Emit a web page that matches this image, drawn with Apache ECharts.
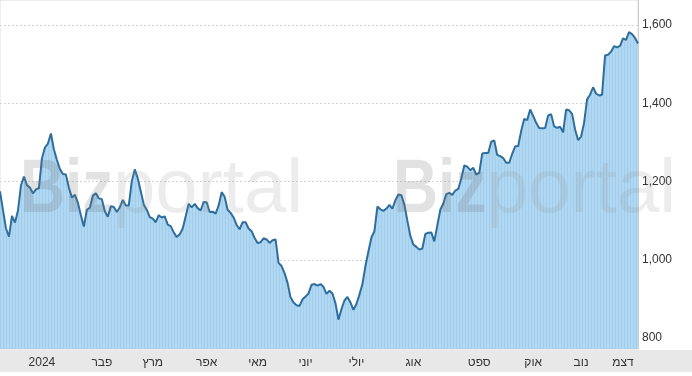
<!DOCTYPE html>
<html lang="he">

<head>
    <meta charset="UTF-8">
    <title>Bizportal</title>
    <script src="https://cdn.jsdelivr.net/npm/echarts@6/dist/echarts.min.js"></script>
    <style>
        html, body { margin: 0; padding: 0; background: #fff; }
    </style>
</head>

<body>

    <div id='main' style="width: 692px;height: 376px;"></div>

    <script>
        // ערכי המדד (נקודה כל ~2 ימי מסחר)
        var values = [
            1175, 1127, 1080, 1059, 1112, 1095, 1126, 1190, 1213, 1191,
            1184, 1170, 1180, 1183, 1259, 1287, 1297, 1323, 1282, 1255,
            1232, 1219, 1218, 1184, 1159, 1166, 1146, 1114, 1085, 1128,
            1133, 1164, 1170, 1157, 1155, 1124, 1110, 1137, 1135, 1122,
            1134, 1153, 1139, 1139, 1201, 1231, 1208, 1175, 1141, 1128,
            1109, 1105, 1096, 1114, 1108, 1111, 1090, 1086, 1070, 1058,
            1065, 1080, 1111, 1143, 1134, 1143, 1132, 1126, 1148, 1147,
            1122, 1123, 1118, 1139, 1173, 1161, 1128, 1120, 1108, 1089,
            1078, 1096, 1096, 1080, 1073, 1056, 1043, 1045, 1055, 1052,
            1043, 1050, 1052, 992, 984, 966, 941, 904, 891, 884,
            882, 899, 906, 914, 936, 938, 934, 938, 931, 913,
            921, 914, 889, 847, 874, 896, 905, 891, 872, 887,
            911, 938, 984, 1021, 1057, 1073, 1136, 1129, 1125, 1131,
            1140, 1131, 1152, 1167, 1165, 1141, 1100, 1061, 1039, 1033,
            1026, 1029, 1066, 1069, 1070, 1047, 1088, 1128, 1144, 1168,
            1171, 1166, 1177, 1181, 1208, 1241, 1238, 1229, 1235, 1218,
            1222, 1272, 1273, 1273, 1302, 1305, 1268, 1265, 1260, 1248,
            1248, 1271, 1290, 1291, 1329, 1360, 1357, 1384, 1368, 1350,
            1337, 1336, 1337, 1369, 1372, 1341, 1337, 1340, 1326, 1384,
            1382, 1373, 1333, 1306, 1315, 1350, 1410, 1422, 1441, 1425,
            1420, 1422, 1522, 1524, 1532, 1546, 1543, 1547, 1566, 1562,
            1582, 1577, 1567, 1553
        ];

        // תוויות חודשים ומיקומן בסדרה
        var monthLabels = ['2024', 'פבר', 'מרץ', 'אפר', 'מאי', 'יוני', 'יולי', 'אוג', 'ספט', 'אוק', 'נוב', 'דצמ'];
        var monthIdx = [14, 34, 51, 69, 86, 102, 119, 138, 160, 178, 194, 208];

        var categories = values.map(function (v, i) { return String(i); });

        var myChart = echarts.init(document.getElementById('main'));

        var fontFam = '"Liberation Sans", "DejaVu Sans", Arial, sans-serif';

        // פסים אנכיים דקים במילוי השטח
        var stripe = document.createElement('canvas');
        stripe.width = 3;
        stripe.height = 4;
        var sctx = stripe.getContext('2d');
        sctx.fillStyle = '#b1d8f2';
        sctx.fillRect(0, 0, 3, 4);
        sctx.fillStyle = '#a2cdeb';
        sctx.fillRect(0, 0, 1, 4);

        // לוגו ברקע
        function watermark(x) {
            return [
                {
                    type: 'text', x: x, y: 191, z: 100, scaleX: 0.82,
                    style: { text: 'Biz', font: 'bold 76px ' + fontFam, fill: 'rgba(110,110,110,0.2)', verticalAlign: 'middle' }
                },
                {
                    type: 'text', x: x + 93, y: 191, z: 100,
                    style: { text: 'portal', font: '76px ' + fontFam, fill: 'rgba(140,140,140,0.17)', verticalAlign: 'middle' }
                }
            ];
        }

        var option = {
            animation: false,
            textStyle: { fontFamily: fontFam },
            grid: { left: 0, right: 54, top: 0, bottom: 27, show: true, borderColor: '#dcdcdc', borderWidth: 1 },
            graphic: [
                {
                    type: 'rect', left: 0, top: 350, z: -10,
                    shape: { width: 692, height: 22 },
                    style: { fill: '#e8e8e8' }
                }
            ].concat(watermark(20), watermark(393)),
            xAxis: {
                type: 'category',
                data: categories,
                boundaryGap: false,
                axisLine: { show: false },
                axisTick: { show: false },
                splitLine: { show: false },
                axisLabel: {
                    margin: 8,
                    fontSize: 12,
                    color: '#333',
                    interval: function (index) { return monthIdx.indexOf(index) >= 0; },
                    formatter: function (value, index) {
                        var k = monthIdx.indexOf(index);
                        return k >= 0 ? monthLabels[k] : '';
                    }
                }
            },
            yAxis: {
                type: 'value',
                position: 'right',
                min: 772,
                max: 1664,
                splitNumber: 5,
                axisLine: { show: true, lineStyle: { color: '#cfcfcf' } },
                axisTick: { show: false },
                axisLabel: {
                    margin: 4,
                    fontSize: 12,
                    color: '#333',
                    showMinLabel: false,
                    showMaxLabel: false,
                    formatter: function (v) { return v.toLocaleString('en-US'); }
                },
                splitLine: {
                    show: true,
                    showMinLine: false,
                    showMaxLine: false,
                    lineStyle: { color: '#d6d6d6', type: [2, 2] }
                }
            },
            series: [{
                type: 'line',
                data: values,
                symbol: 'none',
                lineStyle: { color: '#2f6e9c', width: 2 },
                areaStyle: { color: { image: stripe, repeat: 'repeat' }, opacity: 1 }
            }]
        };

        myChart.setOption(option);
    </script>
</body>

</html>
